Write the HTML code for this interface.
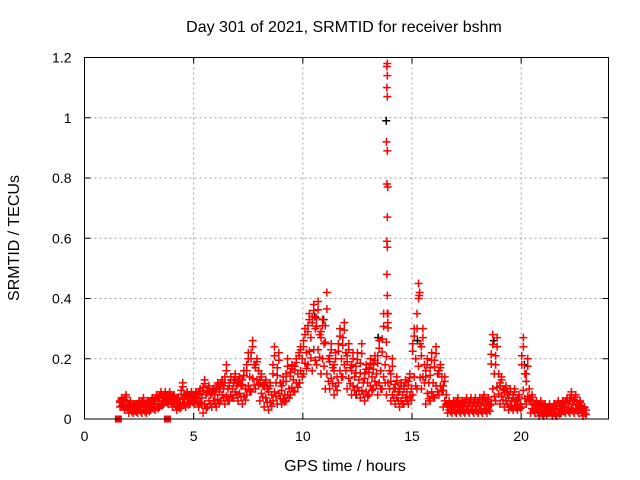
<!DOCTYPE html>
<html><head><meta charset="utf-8"><style>
body{margin:0;background:#fff;}
svg{display:block;font-family:"Liberation Sans",sans-serif;}
</style></head><body>
<svg id="chart" width="640" height="480" viewBox="0 0 640 480" xmlns="http://www.w3.org/2000/svg">
<rect width="640" height="480" fill="#fff"/>
<text x="344" y="32" font-size="16" text-anchor="middle">Day 301 of 2021, SRMTID for receiver bshm</text>
<text x="345" y="471" font-size="16" text-anchor="middle">GPS time / hours</text>
<text x="19" y="238" font-size="16" text-anchor="middle" transform="rotate(-90 19 238)">SRMTID / TECUs</text>
<g id="grid"></g>
<g id="axes"></g>
<g id="marks"></g>
<rect x="84.5" y="57.5" width="524" height="361.5" fill="none" stroke="#000" stroke-width="1"/>
</svg>
<script>
const xTicks=[0,5,10,15,20];
const yTicks=[0,0.2,0.4,0.6,0.8,1,1.2];
const yTickLabels=["0","0.2","0.4","0.6","0.8","1","1.2"];
const times=[1.7,1.9,2.1,2.3,2.5,2.7,2.9,3.1,3.3,3.5,3.7,3.9,4.1,4.3,4.5,4.7,4.9,5.1,5.3,5.5,5.7,5.9,6.1,6.3,6.5,6.7,6.9,7.1,7.3,7.5,7.7,7.9,8.1,8.3,8.5,8.7,8.9,9.1,9.3,9.5,9.7,9.9,10.1,10.3,10.5,10.7,10.9,11.1,11.3,11.5,11.7,11.9,12.1,12.3,12.5,12.7,12.9,13.1,13.3,13.5,13.7,13.9,14.1,14.3,14.5,14.7,14.9,15.1,15.3,15.5,15.7,15.9,16.1,16.3,16.5,16.7,16.9,17.1,17.3,17.5,17.7,17.9,18.1,18.3,18.5,18.7,18.9,19.1,19.3,19.5,19.7,19.9,20.1,20.3,20.5,20.7,20.9,21.1,21.3,21.5,21.7,21.9,22.1,22.3,22.5,22.7,22.9];
const lowVals=[0.04,0.03,0.02,0.02,0.02,0.02,0.02,0.03,0.03,0.04,0.05,0.05,0.04,0.03,0.04,0.04,0.05,0.05,0.04,0.02,0.04,0.04,0.04,0.06,0.05,0.06,0.07,0.06,0.05,0.08,0.09,0.10,0.06,0.04,0.03,0.06,0.05,0.05,0.06,0.08,0.09,0.12,0.15,0.18,0.16,0.18,0.15,0.10,0.10,0.08,0.12,0.14,0.10,0.08,0.08,0.07,0.06,0.08,0.10,0.08,0.10,0.08,0.06,0.05,0.04,0.05,0.05,0.08,0.10,0.10,0.05,0.06,0.07,0.08,0.04,0.02,0.02,0.02,0.02,0.02,0.02,0.02,0.02,0.02,0.02,0.05,0.06,0.05,0.04,0.03,0.03,0.03,0.04,0.05,0.02,0.02,0.01,0.01,0.02,0.01,0.01,0.02,0.02,0.02,0.02,0.02,0.01];
const midVals=[0.05,0.05,0.04,0.035,0.04,0.04,0.04,0.05,0.05,0.06,0.07,0.07,0.06,0.05,0.07,0.07,0.07,0.07,0.07,0.08,0.08,0.08,0.09,0.10,0.10,0.10,0.11,0.11,0.10,0.14,0.18,0.16,0.11,0.10,0.08,0.12,0.12,0.08,0.10,0.13,0.15,0.20,0.22,0.27,0.30,0.28,0.25,0.20,0.17,0.14,0.20,0.22,0.17,0.14,0.13,0.12,0.12,0.14,0.15,0.16,0.18,0.16,0.10,0.09,0.08,0.09,0.10,0.20,0.25,0.18,0.12,0.12,0.15,0.14,0.08,0.04,0.04,0.04,0.04,0.045,0.045,0.045,0.045,0.05,0.045,0.15,0.15,0.10,0.08,0.06,0.06,0.05,0.15,0.10,0.05,0.04,0.035,0.03,0.03,0.03,0.035,0.04,0.04,0.05,0.05,0.04,0.03];
const highVals=[0.07,0.08,0.06,0.05,0.06,0.07,0.06,0.07,0.08,0.09,0.09,0.09,0.08,0.07,0.12,0.09,0.09,0.09,0.10,0.13,0.11,0.10,0.12,0.13,0.18,0.14,0.15,0.14,0.16,0.22,0.26,0.20,0.15,0.13,0.12,0.24,0.22,0.14,0.20,0.18,0.20,0.24,0.30,0.35,0.38,0.39,0.33,0.42,0.25,0.22,0.30,0.32,0.25,0.22,0.22,0.25,0.18,0.20,0.21,0.26,0.35,0.35,0.20,0.14,0.12,0.13,0.15,0.30,0.45,0.30,0.20,0.22,0.24,0.18,0.14,0.06,0.06,0.07,0.06,0.07,0.07,0.07,0.07,0.08,0.07,0.28,0.27,0.14,0.11,0.10,0.10,0.08,0.27,0.20,0.08,0.06,0.06,0.05,0.05,0.05,0.06,0.06,0.07,0.09,0.08,0.06,0.04];
const spikeTimes=[13.87,13.85,13.87,13.85,13.87,13.83,13.87,13.85,13.89,13.87,13.85,13.87,13.85,13.87,13.87,13.89,15.35,15.33];
const spikeVals=[1.18,1.17,1.14,1.10,1.07,0.92,0.89,0.78,0.77,0.67,0.59,0.57,0.48,0.41,0.35,0.32,0.42,0.41];
const blackTimes=[13.87,10.6,11.0,13.5,15.3,18.8,20.2,9.9,12.5];
const blackVals=[0.99,0.34,0.33,0.27,0.26,0.26,0.18,0.12,0.08];
const zeroTimes=[1.55,3.8];
const zeroVals=[0,0];

const X0=84.5,X1=608.5,Y0=419,Y1=57.5,XMAX=24,YMAX=1.2;
function xs(t){return X0+(t/XMAX)*(X1-X0);}
function ys(v){return Y0-(v/YMAX)*(Y0-Y1);}
const NS="http://www.w3.org/2000/svg";
const grid=document.getElementById('grid'),axes=document.getElementById('axes'),marks=document.getElementById('marks');
function mk(tag,attrs,parent){const e=document.createElementNS(NS,tag);for(const k in attrs)e.setAttribute(k,attrs[k]);parent.appendChild(e);return e;}
xTicks.forEach((t,i)=>{
  const x=xs(t);
  if(t>0){const g=mk('line',{x1:x,x2:x,y1:Y1,y2:Y0,stroke:'#a0a0a0','stroke-dasharray':'2,3'},grid);
  
  }
  const a=mk('path',{d:`M${x},${Y0}v-6M${x},${Y1}v6`,stroke:'#000'},axes);
  
  
  const l=mk('text',{x:x,y:Y0+22,'font-size':14,'text-anchor':'middle'},axes);l.textContent=String(t);
  
  
});
yTicks.forEach((v,i)=>{
  const y=ys(v);
  if(v>0&&v<YMAX){const g=mk('line',{x1:X0,x2:X1,y1:y,y2:y,stroke:'#a0a0a0','stroke-dasharray':'2,3'},grid);
  
  }
  const a=mk('path',{d:`M${X0},${y}h6M${X1},${y}h-6`,stroke:'#000'},axes);
  
  
  const l=mk('text',{x:X0-13,y:y+5,'font-size':14,'text-anchor':'end'},axes);l.textContent=yTickLabels[i];
  
  
});
function plus(t,v,color){
  const x=xs(t),y=ys(v);
  const p=mk('path',{d:`M${x-4},${y}h8M${x},${y-4}v8`,stroke:color,'stroke-width':1.5,fill:'none'},marks);
  
  
}
blackTimes.forEach((t,i)=>plus(t-0.05,blackVals[i],'#000'));
const offs=[-0.07,0,0.07];
times.forEach((t,i)=>{
  const lo=lowVals[i],md=midVals[i],hi=highVals[i];
  const vals=[lo,(lo+md)/2,md,(md+hi)/2,hi,(lo*3+md)/4,(md*3+hi)/4,(md+hi*3)/4];
  vals.forEach((v,j)=>plus(t+offs[j%3],v,'#f00'));
});
spikeTimes.forEach((t,i)=>plus(t,spikeVals[i],'#f00'));
zeroTimes.forEach((t,i)=>{
  const r=mk('rect',{x:xs(t)-3.5,y:ys(zeroVals[i])-3.5,width:7,height:7,fill:'#f00'},marks);
  
  
});
</script>
</body></html>
